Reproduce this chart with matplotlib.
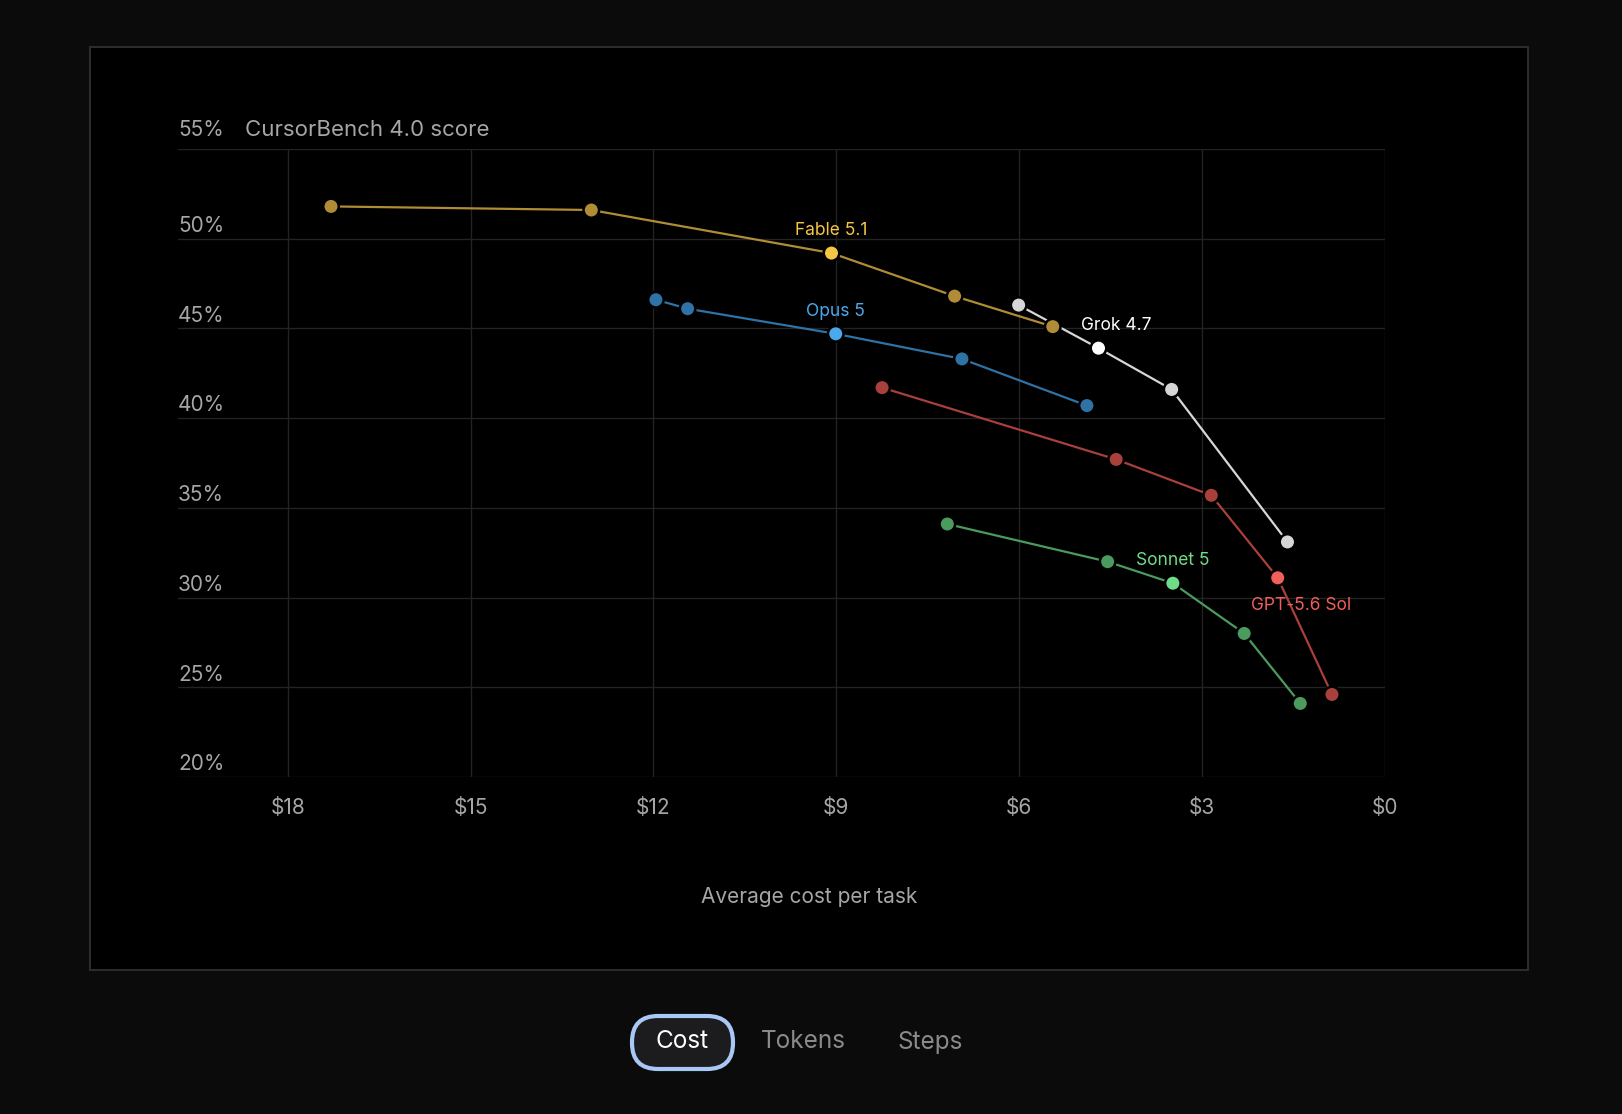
import matplotlib.pyplot as plt
from matplotlib.patches import FancyBboxPatch, Rectangle

plt.rcParams['font.family'] = ['Inter', 'DejaVu Sans']

# data: (average cost per task $, CursorBench 4.0 score %)
fable_cost = [17.29, 13.02, 9.08, 7.06, 5.45]
fable_score = [51.8, 51.6, 49.2, 46.8, 45.1]
opus_cost = [11.96, 11.44, 9.01, 6.94, 4.89]
opus_score = [46.6, 46.1, 44.7, 43.3, 40.7]
grok_cost = [6.01, 4.70, 3.50, 1.60]
grok_score = [46.3, 43.9, 41.6, 33.1]
gpt_cost = [8.25, 4.41, 2.85, 1.76, 0.87]
gpt_score = [41.7, 37.7, 35.7, 31.1, 24.6]
sonnet_cost = [7.18, 4.55, 3.48, 2.31, 1.39]
sonnet_score = [34.1, 32.0, 30.8, 28.0, 24.1]

x_ticks = [18, 15, 12, 9, 6, 3, 0]
x_tick_labels = ['$18', '$15', '$12', '$9', '$6', '$3', '$0']
y_ticks = [20, 25, 30, 35, 40, 45, 50]
y_tick_labels = ['20%', '25%', '30%', '35%', '40%', '45%', '50%']
tabs = ['Cost', 'Tokens', 'Steps']

# name, xs, ys, line colour, highlight colour, highlighted index, label offset (pt)
series = [
    ('Grok 4.7', grok_cost, grok_score, '#d6d6d6', '#ffffff', 1, (13, 16)),
    ('Fable 5.1', fable_cost, fable_score, '#b08c36', '#f7c544', 2, (0, 16)),
    ('Opus 5', opus_cost, opus_score, '#2f72a6', '#4aa8ec', 2, (0, 16)),
    ('GPT-5.6 Sol', gpt_cost, gpt_score, '#a8403b', '#f05f5a', 3, (17, -20)),
    ('Sonnet 5', sonnet_cost, sonnet_score, '#4b9a5e', '#6fdc87', 2, (0, 16)),
]

W, H = 1622, 1114
fig = plt.figure(figsize=(W / 100, H / 100), dpi=100)
fig.patch.set_facecolor('#0b0b0b')

# background layer in pixel coordinates: card, tabs
bg = fig.add_axes([0, 0, 1, 1], zorder=-1)
bg.set_xlim(0, W)
bg.set_ylim(H, 0)
bg.axis('off')
bg.add_patch(Rectangle((90, 47), 1528 - 90, 970 - 47, facecolor='#000000',
                       edgecolor='#2c2c30', linewidth=1.5))
bg.add_patch(FancyBboxPatch((632, 1016), 733 - 632, 1069 - 1016,
                            boxstyle='round,pad=0,rounding_size=26',
                            facecolor='#1c1c1e', edgecolor='#a9c8f5', linewidth=3))
tab_x = [682, 803, 930]
for t, x in zip(tabs, tab_x):
    bg.text(x, 1042, t, ha='center', va='center', fontsize=17.5,
            color='#ffffff' if t == 'Cost' else '#8a8a8e')
bg.text(809, 897, 'Average cost per task', ha='center', va='center',
        fontsize=15, color='#a6a6a6')

ax = fig.add_axes([178 / W, 1 - 777 / H, (1385 - 178) / W, (777 - 149) / H])
ax.set_facecolor('none')
ax.set_xlim(19.8, 0)
ax.set_ylim(20, 55)
for s in ax.spines.values():
    s.set_visible(False)

grid_c = '#232323'
for y in y_ticks + [55]:
    ax.axhline(y, color=grid_c, lw=1, zorder=0)
for x in x_ticks:
    ax.plot([x, x], [20, 55], color=grid_c, lw=1, zorder=0)

ax.set_xticks(x_ticks)
ax.set_xticklabels(x_tick_labels)
ax.set_yticks([])
ax.tick_params(axis='x', length=0, pad=15, labelsize=15, colors='#a6a6a6')

for y, lab in zip(y_ticks, y_tick_labels):
    ax.annotate(lab, xy=(0, y), xycoords=('axes fraction', 'data'),
                xytext=(0, 2), textcoords='offset points', ha='left', va='bottom',
                fontsize=15, color='#a6a6a6')
# top row: 55% with the axis title beside it
ax.annotate('55%', xy=(0, 55), xycoords=('axes fraction', 'data'),
            xytext=(0, 6.5), textcoords='offset points', ha='left', va='bottom',
            fontsize=15, color='#a6a6a6')
ax.annotate('CursorBench 4.0 score', xy=(0, 55), xycoords=('axes fraction', 'data'),
            xytext=(48, 6.5), textcoords='offset points', ha='left', va='bottom',
            fontsize=16, color='#a6a6a6')

for name, xs, ys, c, hc, hi, off in series:
    ax.plot(xs, ys, color=c, lw=1.6, zorder=2)
    cols = [hc if i == hi else c for i in range(len(xs))]
    ax.scatter(xs, ys, s=125, c=cols, edgecolors='#000000', linewidths=1.8, zorder=3)
    ax.annotate(name, xy=(xs[hi], ys[hi]), xytext=off, textcoords='offset points',
                ha='center', va='center', fontsize=12.5, color=hc, zorder=4)

fig.savefig('out.png', dpi=100, facecolor=fig.get_facecolor())
